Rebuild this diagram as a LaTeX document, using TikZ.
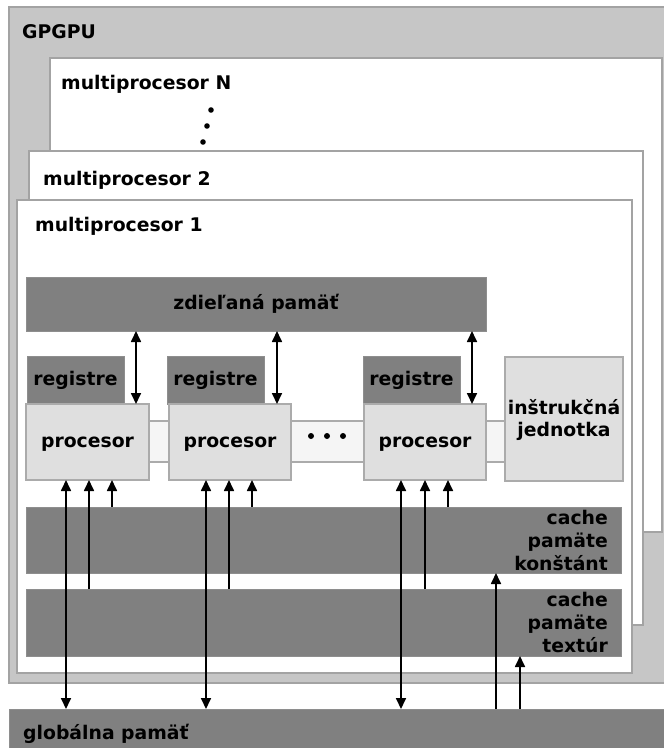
\documentclass[tikz,border=0pt]{standalone}
\usepackage{fontspec}
\setmainfont{DejaVu Sans}
\usetikzlibrary{arrows.meta}
\definecolor{outerfill}{HTML}{C6C6C6}
\definecolor{frame}{HTML}{A3A3A3}
\definecolor{darkbox}{HTML}{808080}
\definecolor{darkedge}{HTML}{8E8E8E}
\definecolor{procfill}{HTML}{DFDFDF}
\definecolor{procedge}{HTML}{ABABAB}
\definecolor{busfill}{HTML}{F5F5F5}
\tikzset{
  lbl/.style={font=\fontsize{18.8}{23}\selectfont\bfseries, inner sep=0pt, text=black},
  blk/.style={anchor=north west, inner sep=0pt, outer sep=0pt, line width=1.5pt},
  outerbox/.style={blk, fill=outerfill, draw=frame},
  mpbox/.style={blk, fill=white, draw=frame},
  darkbx/.style={blk, fill=darkbox, draw=darkedge, line width=1pt},
  procbx/.style={blk, fill=procfill, draw=procedge},
  busbx/.style={blk, fill=busfill, draw=procedge},
  arr/.style={line width=1.7pt, -{Triangle[length=11pt,width=10pt]}},
  dbl/.style={line width=1.7pt, {Triangle[length=11pt,width=10pt]}-{Triangle[length=11pt,width=10pt]}},
}
\newcommand{\bx}[6]{\node[#1, minimum width=#5-#3, minimum height=#6-#4] (#2) at (#3,#4) {};}
\begin{document}
\begin{tikzpicture}[x=1pt,y=-1pt]
\useasboundingbox (0,0) rectangle (664,748);
\clip (0,0) rectangle (664,748);
% outer GPGPU
\bx{outerbox}{gpgpu}{9}{7}{690}{683}
\node[lbl, anchor=base west] (tg) at (22,38) {GPGPU};
% multiprocessors
\bx{mpbox}{mpN}{50}{58}{662}{532}
\node[lbl, anchor=base west] (tN) at (61,89) {multiprocesor N};
\fill (211,110) circle (2.8) (207,126) circle (2.8) (203,142) circle (2.8);
\bx{mpbox}{mp2}{29}{151}{643}{625}
\node[lbl, anchor=base west] (t2) at (43,185) {multiprocesor 2};
\bx{mpbox}{mp1}{17}{200}{632}{673}
\node[lbl, anchor=base west] (t1) at (35,231) {multiprocesor 1};
% shared memory
\bx{darkbx}{zd}{26}{277}{486}{331}
\node[lbl] at (zd.center) {zdieľaná pamäť};
% bus
\bx{busbx}{bus}{149}{421}{505}{462}
\fill (311,436) circle (3) (327,436) circle (3) (343,436) circle (3);
% registers
\bx{darkbx}{reg1}{27}{356}{124}{404}
\bx{darkbx}{reg2}{167}{356}{264}{404}
\bx{darkbx}{reg3}{363}{356}{460}{404}
\node[lbl] at (reg1.center) {registre};
\node[lbl] at (reg2.center) {registre};
\node[lbl] at (reg3.center) {registre};
% processors
\bx{procbx}{p1}{26}{404}{149}{480}
\bx{procbx}{p2}{169}{404}{291}{480}
\bx{procbx}{p3}{364}{404}{486}{480}
\node[lbl] at ([yshift=-2pt]p1.center) {procesor};
\node[lbl] at ([yshift=-2pt]p2.center) {procesor};
\node[lbl] at ([yshift=-2pt]p3.center) {procesor};
% instruction unit
\bx{procbx}{iu}{505}{357}{623}{481}
\node[lbl, align=center, font=\fontsize{18.8}{22}\selectfont\bfseries] at ([yshift=-1pt]iu.center) {inštrukčná\\jednotka};
% caches
\bx{darkbx}{ck}{26}{507}{621}{573}
\node[lbl, align=right, anchor=north east] at ([xshift=-13pt,yshift=-3pt]ck.north east) {cache\\pamäte\\konštánt};
\bx{darkbx}{ct}{26}{589}{621}{656}
\node[lbl, align=right, anchor=north east] at ([xshift=-13pt,yshift=-3pt]ct.north east) {cache\\pamäte\\textúr};
% global memory
\bx{darkbx}{gl}{9}{709}{690}{770}
\node[lbl, anchor=base west] (tgl) at (23,739) {globálna pamäť};
% arrow columns
\coordinate (c1) at (136,0);
\coordinate (c2) at (277,0);
\coordinate (c3) at (472,0);
\draw[dbl] (zd.south -| c1) -- (p1.north -| c1);
\draw[dbl] (zd.south -| c2) -- (p2.north -| c2);
\draw[dbl] (zd.south -| c3) -- (p3.north -| c3);
\foreach \n/\a/\b/\c in {p1/66/89/112, p2/206/229/252, p3/401/425/448}{
  \coordinate (g\n) at (\a,0);
  \coordinate (t\n) at (\b,0);
  \coordinate (k\n) at (\c,0);
  \draw[dbl] (\n.south -| g\n) -- (gl.north -| g\n);
  \draw[arr] (ct.north -| t\n) -- (\n.south -| t\n);
  \draw[arr] (ck.north -| k\n) -- (\n.south -| k\n);
}
\coordinate (u1) at (496,0);
\coordinate (u2) at (520,0);
\draw[arr] (gl.north -| u1) -- (ck.south -| u1);
\draw[arr] (gl.north -| u2) -- (ct.south -| u2);
\end{tikzpicture}
\end{document}
